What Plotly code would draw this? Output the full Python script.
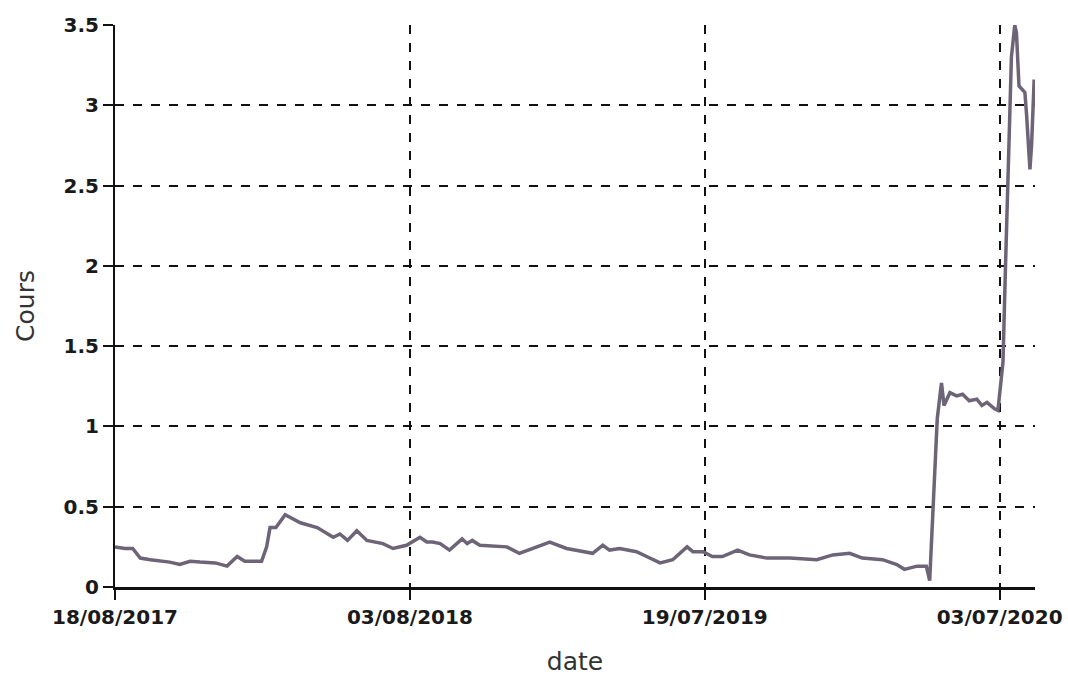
import plotly.graph_objects as go

dates = [
    "2017-08-18", "2017-08-30", "2017-09-08", "2017-09-17", "2017-09-29", "2017-10-10",
    "2017-10-22", "2017-11-03", "2017-11-15", "2017-11-27", "2017-12-15", "2017-12-29",
    "2018-01-10", "2018-01-19", "2018-02-08", "2018-02-14", "2018-02-18", "2018-02-25",
    "2018-03-08", "2018-03-26", "2018-04-15", "2018-05-04", "2018-05-12", "2018-05-21",
    "2018-06-01", "2018-06-13", "2018-07-02", "2018-07-14", "2018-07-30", "2018-08-15",
    "2018-08-23", "2018-08-30", "2018-09-08", "2018-09-19", "2018-10-04", "2018-10-10",
    "2018-10-16", "2018-10-25", "2018-11-26", "2018-12-11", "2018-12-27", "2019-01-16",
    "2019-02-05", "2019-03-01", "2019-03-08", "2019-03-20", "2019-03-28", "2019-04-09",
    "2019-04-29", "2019-05-11", "2019-05-27", "2019-06-11", "2019-06-28", "2019-07-05",
    "2019-07-17", "2019-07-28", "2019-08-09", "2019-08-27", "2019-09-10", "2019-10-01",
    "2019-10-28", "2019-11-29", "2019-12-18", "2020-01-07", "2020-01-22", "2020-02-15",
    "2020-03-03", "2020-03-12", "2020-03-27", "2020-04-07", "2020-04-11", "2020-04-16",
    "2020-04-20", "2020-04-25", "2020-04-28", "2020-05-05", "2020-05-13", "2020-05-20",
    "2020-05-28", "2020-06-06", "2020-06-12", "2020-06-18", "2020-06-27", "2020-07-01",
    "2020-07-03", "2020-07-07", "2020-07-10", "2020-07-14", "2020-07-17", "2020-07-21",
    "2020-07-23", "2020-07-26", "2020-08-02", "2020-08-04", "2020-08-08", "2020-08-10",
    "2020-08-13",
]
cours = [
    0.25, 0.24, 0.24, 0.18, 0.17, 0.165,
    0.155, 0.14, 0.16, 0.155, 0.15, 0.13,
    0.19, 0.16, 0.16, 0.25, 0.37, 0.37,
    0.45, 0.40, 0.37, 0.31, 0.33, 0.29,
    0.35, 0.29, 0.27, 0.24, 0.26, 0.31,
    0.28, 0.28, 0.27, 0.23, 0.30, 0.27,
    0.29, 0.26, 0.25, 0.21, 0.24, 0.28,
    0.24, 0.22, 0.21, 0.26, 0.23, 0.24,
    0.22, 0.19, 0.15, 0.17, 0.25, 0.22,
    0.22, 0.19, 0.19, 0.23, 0.20, 0.18,
    0.18, 0.17, 0.20, 0.21, 0.18, 0.17,
    0.14, 0.11, 0.13, 0.13, 0.04, 0.60,
    1.05, 1.27, 1.13, 1.21, 1.19, 1.20,
    1.16, 1.17, 1.13, 1.15, 1.11, 1.10,
    1.19, 1.40, 2.00, 2.80, 3.30, 3.50,
    3.45, 3.12, 3.08, 2.94, 2.60, 2.76,
    3.16,
]

x_tick_vals = ["2017-08-18", "2018-08-03", "2019-07-19", "2020-07-03"]
x_tick_text = ["18/08/2017", "03/08/2018", "19/07/2019", "03/07/2020"]
x_range = ["2017-08-18", "2020-08-14"]
y_range = [0, 3.5]

fig = go.Figure()
fig.add_trace(go.Scatter(
    x=dates, y=cours, mode="lines",
    line=dict(color="#6d6477", width=3.5),
    showlegend=False,
))

tick_font = dict(family="DejaVu Sans", size=20, color="#1a1a1a", weight="bold")
title_font = dict(family="DejaVu Sans", size=25, color="#333333")

fig.update_layout(
    width=1068, height=676,
    margin=dict(l=115, r=33, t=25, b=89),
    paper_bgcolor="white", plot_bgcolor="white",
    xaxis=dict(
        type="date", range=x_range,
        tickmode="array", tickvals=x_tick_vals, ticktext=x_tick_text,
        showgrid=True, gridcolor="#111111", griddash="dash", gridwidth=2,
        showline=True, linecolor="#111111", linewidth=3,
        ticks="outside", ticklen=10, tickwidth=2, tickcolor="#111111",
        tickfont=tick_font,
        title=dict(text="date", font=title_font, standoff=26),
        zeroline=False, automargin=False,
    ),
    yaxis=dict(
        range=y_range, dtick=0.5, tick0=0,
        showgrid=True, gridcolor="#111111", griddash="dash", gridwidth=2,
        showline=True, linecolor="#111111", linewidth=2,
        ticks="outside", ticklen=10, tickwidth=2, tickcolor="#111111",
        tickfont=tick_font,
        title=dict(text="Cours", font=title_font, standoff=22),
        zeroline=False, automargin=False,
    ),
)

fig.write_html(
    "out.html",
    config={"displayModeBar": False},
    post_script="document.body.style.margin='0';document.body.style.overflow='hidden';",
)
